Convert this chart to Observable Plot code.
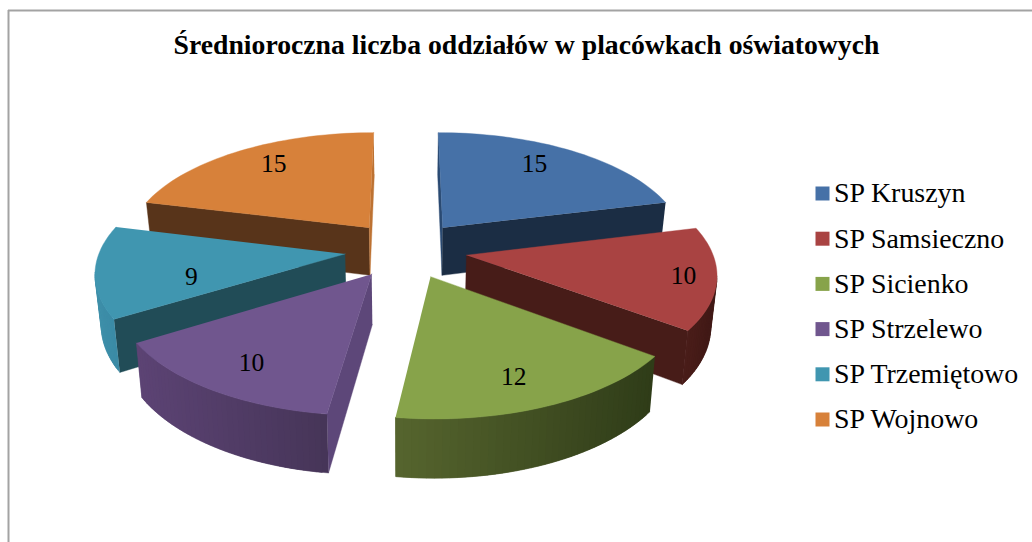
<!DOCTYPE html>
<html lang="pl">
<head>
<meta charset="utf-8">
<script src="https://cdn.jsdelivr.net/npm/d3@7"></script>
<script src="https://cdn.jsdelivr.net/npm/@observablehq/plot@0.6"></script>
<style>
html,body{margin:0;padding:0;background:#fff}
svg{display:block}
</style>
</head>
<body>
<div id="chart"></div>
<script>
// Data
const chartTitle = "Średnioroczna liczba oddziałów w placówkach oświatowych";
const schools = ["SP Kruszyn","SP Samsieczno","SP Sicienko","SP Strzelewo","SP Trzemiętowo","SP Wojnowo"];
const values = [15,10,12,10,9,15];

// Styles
const topColors = ["#4671a7","#a94342","#87a34a","#70568e","#4096b0","#d7813a"];
const startCut = ["#2a4a72","#471c18","#55652e","#5d4779","#214c57","#58341a"];
const endCut   = ["#1b2d44","#471c18","#55652e","#5d4779","#214c57","#bd7232"];
const outerFrom = ["#1b2d44","#4a1d19","#56652e","#5c4374","#3e8fa9","#58341a"];
const outerTo   = ["#1b2d44","#3f1815","#2f3c18","#463558","#3a8aa5","#58341a"];
const paintOrder = [5,0,4,1,3,2];

// Layout of the exploded perspective pie
const W = 1032, H = 542;
const cx = 405.5, cy = 249, Rx = 245, Ry = 114, persp = 0.14, explode = 0.25, depth = 49, shrink = 0.98;
const labelRadius = [0.69,0.87,0.74,0.77,0.62,0.72];
const labelLift   = [9.5,0,-8,-2,-12,7];
const legendX = 822, legendTextX = 833.5, legendY0 = 193, legendStep = 45.2;

function project(X, Y, z) {
  const s = 1 / (1 - persp * Y);
  const sx = cx + Rx * X * s, sy = cy + Ry * Y * s;
  return z ? [cx + (sx - cx) * shrink, sy + depth * s] : [sx, sy];
}

const arcs = d3.pie().sort(null).startAngle(0).endAngle(2 * Math.PI)(values);
const polys = [];
let pid = 0;
function addPoly(pts, color) {
  const id = pid++;
  for (const p of pts) polys.push({id, x: p[0], y: p[1], color});
}
const labels = [];

arcs.forEach((a, i) => {
  const mid = (a.startAngle + a.endAngle) / 2;
  const ox = explode * Math.sin(mid), oy = -explode * Math.cos(mid);
  const onRim = t => [ox + Math.sin(t), oy - Math.cos(t)];
  const n = 40;
  a.rim = d3.range(n + 1).map(k => onRim(a.startAngle + (a.endAngle - a.startAngle) * k / n));
  a.ox = ox; a.oy = oy;
  const r = labelRadius[i];
  const [lx, ly] = project(ox + r * Math.sin(mid), oy - r * Math.cos(mid), false);
  labels.push({x: lx, y: ly - labelLift[i], v: values[i]});
});

// A wall hangs below the top edge p-q. It is drawn only if it looks at the viewer;
// "far" lets a strip run on under its neighbour so that no seam shows between strips.
function wall(p, q, color, far = q) {
  const a = project(p[0], p[1], false), b = project(q[0], q[1], false);
  if (b[0] >= a[0]) return;
  addPoly([a, project(far[0], far[1], false), project(far[0], far[1], true), project(p[0], p[1], true)], color);
}

paintOrder.forEach(i => {
  const a = arcs[i], apex = [a.ox, a.oy], rim = a.rim;
  wall(apex, rim[0], startCut[i]);
  wall(rim[rim.length - 1], apex, endCut[i]);
  const mix = d3.interpolateRgb(outerFrom[i], outerTo[i]);
  const xs = rim.map(p => project(p[0], p[1], false)[0]);
  const x0 = d3.min(xs), x1 = d3.max(xs);
  for (let k = 0; k < rim.length - 1; k++) {
    const far = rim[Math.min(k + 2, rim.length - 1)];
    wall(rim[k], rim[k + 1], mix(((xs[k] + xs[k + 1]) / 2 - x0) / ((x1 - x0) || 1)), far);
  }
  addPoly([apex, ...rim].map(p => project(p[0], p[1], false)), topColors[i]);
});

const serif = "'Liberation Serif','Times New Roman',serif";
const legendRows = schools.map((name, i) => ({name, color: topColors[i], y: legendY0 + i * legendStep}));

const chart = Plot.plot({
  width: W, height: H,
  margin: 0,
  x: {domain: [0, W], range: [0, W], axis: null},
  y: {domain: [0, H], range: [0, H], axis: null},
  color: {type: "identity"},
  style: {background: "#fff", fontFamily: serif},
  marks: [
    Plot.ruleY([10], {x1: 8, x2: W, stroke: "#a3a3a3", strokeWidth: 2}),
    Plot.ruleX([8], {y1: 10, y2: H, stroke: "#a3a3a3", strokeWidth: 2}),
    Plot.line(polys, {x: "x", y: "y", z: "id", fill: "color", stroke: "color", strokeWidth: 0.4}),
    Plot.text(labels, {x: "x", y: "y", text: "v", fontSize: 25.5, fill: "#000", fontFamily: serif}),
    Plot.text([chartTitle], {x: () => 526, y: () => 45, text: d => d, fontSize: 27.7, fontWeight: "bold", fill: "#000", fontFamily: serif}),
    Plot.dot(legendRows, {x: () => legendX, y: "y", symbol: "square", r: 7.9, fill: "color", stroke: "none"}),
    Plot.text(legendRows, {x: () => legendTextX, y: "y", text: "name", textAnchor: "start", fontSize: 27.9, fill: "#000", fontFamily: serif})
  ]
});
document.getElementById("chart").appendChild(chart);
</script>
</body>
</html>
